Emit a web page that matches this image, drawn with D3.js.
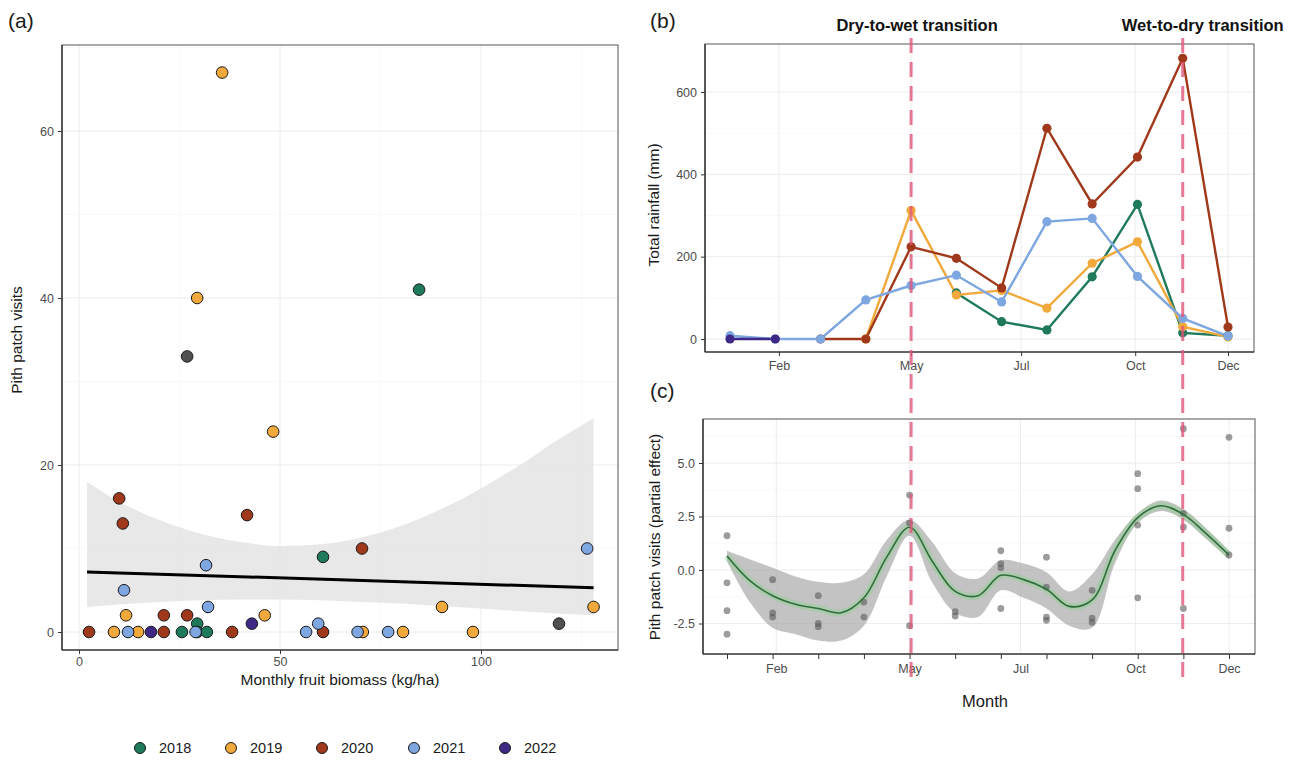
<!DOCTYPE html>
<html>
<head>
<meta charset="utf-8">
<script src="https://cdn.jsdelivr.net/npm/d3@7"></script>
<style>
  body { margin: 0; background: #fff; }
  svg { font-family: "Liberation Sans", Arial, sans-serif; }
  .tick text { fill: #4d4d4d; font-size: 12.5px; }
  .tick line { stroke: #333; }
</style>
</head>
<body>
<svg id="fig" width="1293" height="762"></svg>
<script>
// ---- data -------------------------------------------------------------
const years = ['2018', '2019', '2020', '2021', '2022'];
const yearColors = ['#1f7a5c', '#f2a93b', '#a0391b', '#7ea6e0', '#3e2a86'];
const otherColor = '#505050';

// (a) fruit biomass vs pith visits
const biomass2018 = [84.6, 60.7, 29.4, 25.6, 29.4, 31.8];
const visits2018  = [41, 9, 1, 0, 0, 0];
const biomass2019 = [35.6, 29.4, 48.3, 11.7, 46.2, 90.3, 128, 8.7, 14.7, 70.6, 80.6, 98];
const visits2019  = [67, 40, 24, 2, 2, 3, 3, 0, 0, 0, 0, 0];
const biomass2020 = [10, 10.9, 41.8, 70.4, 21.1, 26.9, 2.5, 21.1, 38.1, 60.7];
const visits2020  = [16, 13, 14, 10, 2, 2, 0, 0, 0, 0];
const biomass2021 = [126.4, 31.6, 11.2, 32.1, 59.5, 12.2, 29, 56.5, 69.3, 76.9];
const visits2021  = [10, 8, 5, 3, 1, 0, 0, 0, 0, 0];
const biomass2022 = [43, 17.9];
const visits2022  = [1, 0];
const biomassOther = [26.9, 119.4];
const visitsOther  = [33, 1];

const fitX = [2, 128];
const fitY = [7.2, 5.3];
const bandX     = [2, 10, 20, 30, 40, 50, 60, 70, 80, 90, 100, 110, 120, 128];
const bandUpper = [18.0, 15.6, 13.4, 11.8, 10.8, 10.3, 10.5, 11.3, 12.7, 14.7, 17.2, 20.1, 23.3, 25.6];
const bandLower = [3.0, 3.3, 3.6, 3.8, 3.9, 3.9, 3.8, 3.6, 3.4, 3.1, 2.8, 2.5, 2.2, 2.0];

// (b) monthly rainfall
const months = [1, 2, 3, 4, 5, 6, 7, 8, 9, 10, 11, 12];
const rain2018 = [null, null, null, null, null, 112, 42, 22, 151, 327, 15, 8];
const rain2019 = [null, null, null, 0, 312, 107, 118, 75, 184, 236, 30, 5];
const rain2020 = [null, null, 0, 0, 224, 196, 124, 512, 328, 442, 682, 29];
const rain2021 = [8, 0, 0, 95, 130, 155, 90, 285, 293, 152, 50, 7];
const rain2022 = [0, 0, null, null, null, null, null, null, null, null, null, null];

const monthTickPos = [2.08, 5, 7.43, 9.95, 12];
const monthTickLab = ['Feb', 'May', 'Jul', 'Oct', 'Dec'];
const transitionMonths = [5, 11];
const transitionLabels = ['Dry-to-wet transition', 'Wet-to-dry transition'];

// (c) partial effect of month
const smoothMonth = [1, 1.5, 2, 2.5, 3, 3.5, 4, 4.5, 5, 5.5, 6, 6.5, 7, 7.5, 8, 8.5, 9, 9.5, 10, 10.5, 11, 11.5, 12];
const smoothFit   = [0.65, -0.5, -1.2, -1.6, -1.8, -2.0, -1.3, 0.6, 2.0, 0.4, -1.0, -1.2, -0.25, -0.45, -0.9, -1.7, -1.4, 0.9, 2.45, 3.0, 2.6, 1.7, 0.7];
const smoothUpper = [0.9, 0.5, 0.1, -0.3, -0.55, -0.6, -0.2, 1.4, 2.35, 1.3, -0.15, -0.4, 0.45, 0.3, -0.1, -1.0, -0.2, 1.4, 2.65, 3.25, 2.85, 1.95, 0.9];
const smoothLower = [0.4, -1.5, -2.7, -3.0, -3.3, -3.3, -2.6, -0.3, 1.6, -0.6, -2.0, -2.2, -0.95, -1.3, -1.8, -2.6, -2.7, 0.3, 2.2, 2.75, 2.35, 1.45, 0.5];

const residMonth = [1, 1, 1, 1, 2, 2, 2, 3, 3, 3, 4, 4, 5, 5, 5, 6, 6, 7, 7, 7, 7, 8, 8, 8, 8, 9, 9, 9, 10, 10, 10, 10, 11, 11, 11, 11, 12, 12, 12];
const residValue = [1.6, -0.6, -1.9, -3.0, -0.45, -2.0, -2.2, -1.2, -2.5, -2.65, -1.5, -2.2, 3.5, 2.2, -2.6, -1.95, -2.15, 0.9, 0.3, 0.1, -1.8, 0.6, -0.8, -2.2, -2.35, -0.95, -2.25, -2.45, 4.5, 3.8, 2.1, -1.3, 6.6, 2.65, 2.0, -1.8, 6.2, 1.95, 0.7];

// ---- drawing ----------------------------------------------------------
const svg = d3.select('#fig');
svg.append('rect').attr('width', 1293).attr('height', 762).attr('fill', '#fff');

const GRID_MAJOR = '#ececec';
const GRID_MINOR = '#f5f5f5';

function panelFrame(g, x0, x1, y0, y1) {
  g.append('rect')
    .attr('x', x0).attr('y', y0).attr('width', x1 - x0).attr('height', y1 - y0)
    .attr('fill', 'none').attr('stroke', '#555').attr('stroke-width', 1);
  g.append('line').attr('x1', x0).attr('x2', x0).attr('y1', y0).attr('y2', y1)
    .attr('stroke', '#222').attr('stroke-width', 1.2);
  g.append('line').attr('x1', x0).attr('x2', x1).attr('y1', y1).attr('y2', y1)
    .attr('stroke', '#222').attr('stroke-width', 1.2);
}

function gridV(g, xs, y0, y1, color, w) {
  g.selectAll(null).data(xs).join('line')
    .attr('x1', d => d).attr('x2', d => d).attr('y1', y0).attr('y2', y1)
    .attr('stroke', color).attr('stroke-width', w);
}
function gridH(g, ys, x0, x1, color, w) {
  g.selectAll(null).data(ys).join('line')
    .attr('x1', x0).attr('x2', x1).attr('y1', d => d).attr('y2', d => d)
    .attr('stroke', color).attr('stroke-width', w);
}

function styleAxis(sel) {
  sel.select('.domain').remove();
  sel.selectAll('.tick line').attr('stroke', '#333');
}

// ===== panel (a) =====
const A = { x0: 62, x1: 618, y0: 45, y1: 650 };
const xA = d3.scaleLinear().domain([0, 100]).range([79, 481]);
const yA = d3.scaleLinear().domain([0, 60]).range([632, 131]);
const gA = svg.append('g');

gridV(gA, [25, 75, 125].map(xA), A.y0, A.y1, GRID_MINOR, 0.6);
gridH(gA, [10, 30, 50, 70].map(yA), A.x0, A.x1, GRID_MINOR, 0.6);
gridV(gA, [0, 50, 100].map(xA), A.y0, A.y1, GRID_MAJOR, 1);
gridH(gA, [0, 20, 40, 60].map(yA), A.x0, A.x1, GRID_MAJOR, 1);

const bandA = d3.area()
  .x((d, i) => xA(bandX[i]))
  .y0((d, i) => yA(bandLower[i]))
  .y1((d, i) => yA(bandUpper[i]))
  .curve(d3.curveMonotoneX);
gA.append('path').datum(bandX).attr('d', bandA).attr('fill', '#e4e4e4').attr('opacity', 0.85);

gA.append('line')
  .attr('x1', xA(fitX[0])).attr('y1', yA(fitY[0]))
  .attr('x2', xA(fitX[1])).attr('y2', yA(fitY[1]))
  .attr('stroke', '#000').attr('stroke-width', 3);

const scatterSets = [
  [biomass2018, visits2018, yearColors[0]],
  [biomass2019, visits2019, yearColors[1]],
  [biomass2020, visits2020, yearColors[2]],
  [biomass2021, visits2021, yearColors[3]],
  [biomass2022, visits2022, yearColors[4]],
  [biomassOther, visitsOther, otherColor]
];
scatterSets.forEach(([xs, ys, col]) => {
  gA.selectAll(null).data(xs).join('circle')
    .attr('cx', d => xA(d))
    .attr('cy', (d, i) => yA(ys[i]))
    .attr('r', 5.8)
    .attr('fill', col)
    .attr('stroke', '#1a1a1a').attr('stroke-width', 1);
});

panelFrame(gA, A.x0, A.x1, A.y0, A.y1);

gA.append('g').attr('transform', `translate(0,${A.y1})`)
  .call(d3.axisBottom(xA).tickValues([0, 50, 100]).tickSize(4).tickPadding(3))
  .call(styleAxis);
gA.append('g').attr('transform', `translate(${A.x0},0)`)
  .call(d3.axisLeft(yA).tickValues([0, 20, 40, 60]).tickSize(4).tickPadding(4))
  .call(styleAxis);

gA.append('text').attr('x', 340).attr('y', 685).attr('text-anchor', 'middle')
  .attr('font-size', 15.5).attr('fill', '#1a1a1a').text('Monthly fruit biomass (kg/ha)');
gA.append('text').attr('transform', 'translate(22,340) rotate(-90)').attr('text-anchor', 'middle')
  .attr('font-size', 15.5).attr('fill', '#1a1a1a').text('Pith patch visits');

// legend
const legX = [140, 231, 322, 414, 505];
const gLeg = svg.append('g');
years.forEach((yr, i) => {
  gLeg.append('circle').attr('cx', legX[i]).attr('cy', 748).attr('r', 5.5)
    .attr('fill', yearColors[i]).attr('stroke', '#1a1a1a').attr('stroke-width', 1);
  gLeg.append('text').attr('x', legX[i] + 19).attr('y', 753)
    .attr('font-size', 14.5).attr('fill', '#1a1a1a').text(yr);
});

// ===== panel (b) =====
const B = { x0: 705, x1: 1254, y0: 44, y1: 352 };
const xB = d3.scaleLinear().domain([1, 12]).range([730, 1228]);
const yB = d3.scaleLinear().domain([0, 600]).range([339, 92]);
const gB = svg.append('g');

gridH(gB, [100, 300, 500].map(yB), B.x0, B.x1, GRID_MINOR, 0.6);
gridV(gB, monthTickPos.map(xB), B.y0, B.y1, GRID_MAJOR, 1);
gridH(gB, [0, 200, 400, 600].map(yB), B.x0, B.x1, GRID_MAJOR, 1);

const rainSeries = [rain2018, rain2019, rain2020, rain2021, rain2022];
const lineB = d3.line()
  .defined(d => d.v !== null)
  .x(d => xB(d.m)).y(d => yB(d.v));
rainSeries.forEach((vals, k) => {
  const pts = months.map((m, i) => ({ m, v: vals[i] }));
  gB.append('path').datum(pts).attr('d', lineB)
    .attr('fill', 'none').attr('stroke', yearColors[k]).attr('stroke-width', 2.4);
});
rainSeries.forEach((vals, k) => {
  const pts = months.map((m, i) => ({ m, v: vals[i] })).filter(d => d.v !== null);
  gB.selectAll(null).data(pts).join('circle')
    .attr('cx', d => xB(d.m)).attr('cy', d => yB(d.v)).attr('r', 4.6)
    .attr('fill', yearColors[k]);
});

panelFrame(gB, B.x0, B.x1, B.y0, B.y1);

gB.append('g').attr('transform', `translate(0,${B.y1})`)
  .call(d3.axisBottom(xB).tickValues(monthTickPos).tickFormat((d, i) => monthTickLab[i]).tickSize(4).tickPadding(5))
  .call(styleAxis);
gB.append('g').attr('transform', `translate(${B.x0},0)`)
  .call(d3.axisLeft(yB).tickValues([0, 200, 400, 600]).tickSize(4).tickPadding(4))
  .call(styleAxis);
gB.append('text').attr('transform', 'translate(659,205) rotate(-90)').attr('text-anchor', 'middle')
  .attr('font-size', 15.5).attr('fill', '#1a1a1a').text('Total rainfall (mm)');

// ===== panel (c) =====
const C = { x0: 703, x1: 1255, y0: 419, y1: 654 };
const xC = d3.scaleLinear().domain([1, 12]).range([727, 1229]);
const yC = d3.scaleLinear().domain([0, 5]).range([570, 463]);
const gC = svg.append('g');

gridH(gC, [-3.75, -1.25, 1.25, 3.75, 6.25].map(yC), C.x0, C.x1, GRID_MINOR, 0.6);
gridV(gC, monthTickPos.map(xC), C.y0, C.y1, GRID_MAJOR, 1);
gridH(gC, [-2.5, 0, 2.5, 5].map(yC), C.x0, C.x1, GRID_MAJOR, 1);

const bandC = d3.area()
  .x((d, i) => xC(smoothMonth[i]))
  .y0((d, i) => yC(smoothLower[i]))
  .y1((d, i) => yC(smoothUpper[i]))
  .curve(d3.curveCatmullRom);
gC.append('path').datum(smoothMonth).attr('d', bandC).attr('fill', '#a9a9a9').attr('opacity', 0.7);

const lineC = d3.line()
  .x((d, i) => xC(smoothMonth[i]))
  .y((d, i) => yC(smoothFit[i]))
  .curve(d3.curveCatmullRom);
gC.append('path').datum(smoothMonth).attr('d', lineC)
  .attr('fill', 'none').attr('stroke', '#8fd18f').attr('stroke-width', 7).attr('opacity', 0.45);

gC.selectAll(null).data(residMonth).join('circle')
  .attr('cx', d => xC(d)).attr('cy', (d, i) => yC(residValue[i])).attr('r', 3.4)
  .attr('fill', '#5a5a5a').attr('opacity', 0.6);

gC.append('path').datum(smoothMonth).attr('d', lineC)
  .attr('fill', 'none').attr('stroke', '#2e6e3c').attr('stroke-width', 1.6);

panelFrame(gC, C.x0, C.x1, C.y0, C.y1);

gC.append('g').attr('transform', `translate(0,${C.y1})`)
  .call(d3.axisBottom(xC).tickValues(months).tickFormat('').tickSize(5))
  .call(styleAxis);
gC.append('g').attr('transform', `translate(0,${C.y1})`)
  .call(d3.axisBottom(xC).tickValues(monthTickPos).tickFormat((d, i) => monthTickLab[i]).tickSize(0).tickPadding(10))
  .call(styleAxis);
gC.append('g').attr('transform', `translate(${C.x0},0)`)
  .call(d3.axisLeft(yC).tickValues([-2.5, 0, 2.5, 5]).tickFormat(d => d.toFixed(1)).tickSize(4).tickPadding(4))
  .call(styleAxis);
gC.append('text').attr('x', 985).attr('y', 707).attr('text-anchor', 'middle')
  .attr('font-size', 16.5).attr('fill', '#1a1a1a').text('Month');
gC.append('text').attr('transform', 'translate(660,537) rotate(-90)').attr('text-anchor', 'middle')
  .attr('font-size', 15.5).attr('fill', '#1a1a1a').text('Pith patch visits (partial effect)');

// ===== transition lines + headers =====
const gT = svg.append('g');
transitionMonths.forEach((m, i) => {
  const x = xB(m);
  gT.append('line').attr('x1', x).attr('x2', x).attr('y1', 38).attr('y2', 684)
    .attr('stroke', '#e0587a').attr('stroke-width', 3).attr('stroke-dasharray', '15,9')
    .attr('opacity', 0.8);
  gT.append('text').attr('x', x + (i === 0 ? 6 : 20)).attr('y', 31).attr('text-anchor', 'middle')
    .attr('font-size', 16.5).attr('font-weight', 'bold').attr('fill', '#111')
    .text(transitionLabels[i]);
});

// panel tags
[['(a)', 8, 28], ['(b)', 650, 28], ['(c)', 650, 398]].forEach(([t, x, y]) => {
  svg.append('text').attr('x', x).attr('y', y).attr('font-size', 21).attr('fill', '#1a1a1a').text(t);
});
</script>
</body>
</html>
